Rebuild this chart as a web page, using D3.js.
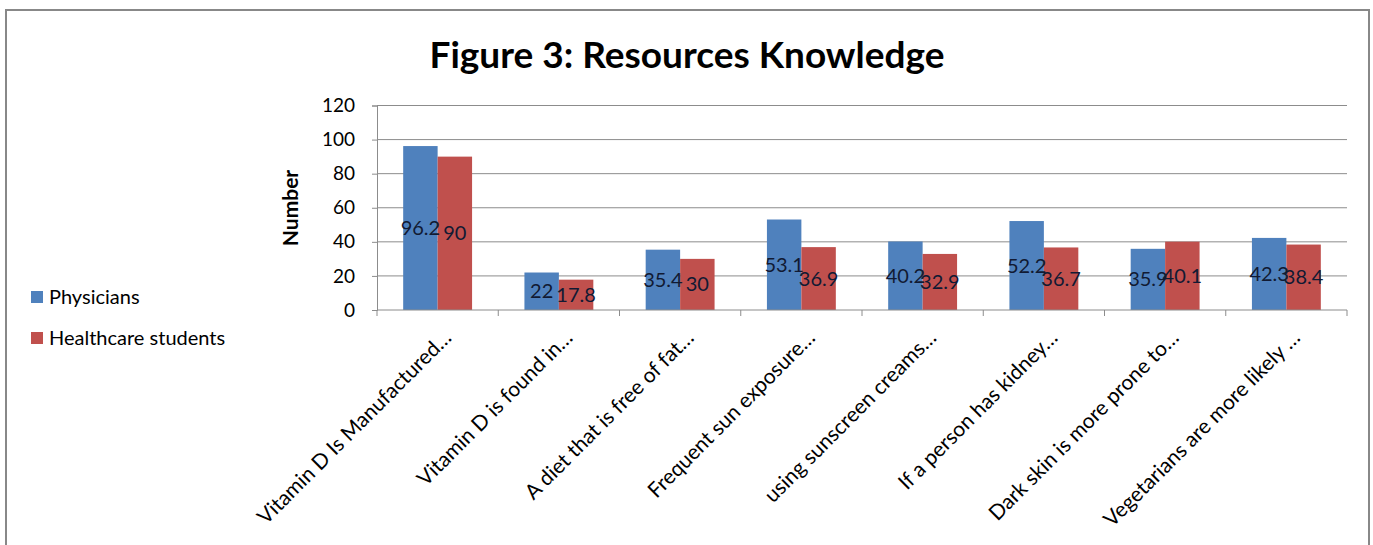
<!DOCTYPE html>
<html>
<head>
<meta charset="utf-8">
<script src="https://cdn.jsdelivr.net/npm/d3@7"></script>
<style>
  body { margin: 0; background: #fff; }
  svg { display: block; font-family: Lato, "Open Sans", sans-serif; }
</style>
</head>
<body>
<svg id="chart" width="1373" height="545"></svg>
<script>
const categories = [
  "Vitamin D Is Manufactured…",
  "Vitamin D is found in…",
  "A diet that is free of fat…",
  "Frequent sun exposure…",
  "using sunscreen creams…",
  "If a person has kidney…",
  "Dark skin is more prone to…",
  "Vegetarians are more likely …",
];
const physicians = [96.2, 22, 35.4, 53.1, 40.2, 52.2, 35.9, 42.3];
const students = [90, 17.8, 30, 36.9, 32.9, 36.7, 40.1, 38.4];
const seriesNames = ["Physicians", "Healthcare students"];
const seriesColors = ["#4F81BD", "#C0504D"];
const yTicks = [0, 20, 40, 60, 80, 100, 120];

const svg = d3.select("#chart");
const margin = { left: 377, right: 26, top: 105.5 };
const width = 1373;
const plotBottom = 310;

// outer frame
svg.append("rect")
  .attr("x", 6).attr("y", 10)
  .attr("width", 1363).attr("height", 545)
  .attr("fill", "none").attr("stroke", "#888").attr("stroke-width", 2);

svg.append("text")
  .attr("x", 687).attr("y", 68)
  .attr("text-anchor", "middle")
  .style("font-size", "37px").style("font-weight", "bold")
  .text("Figure 3: Resources Knowledge");

const x = d3.scaleBand()
  .domain(categories)
  .range([margin.left, width - margin.right])
  .paddingInner(0).paddingOuter(0);

const x1 = d3.scaleBand()
  .domain(seriesNames)
  .range([0, x.bandwidth()])
  .paddingOuter(0.76).paddingInner(0);

const y = d3.scaleLinear().domain([0, 120]).range([plotBottom, margin.top]);

// gridlines
svg.append("g")
  .selectAll("line")
  .data(yTicks.filter(d => d > 0))
  .join("line")
  .attr("x1", margin.left).attr("x2", width - margin.right)
  .attr("y1", d => y(d)).attr("y2", d => y(d))
  .attr("stroke", "#8c8c8c").attr("stroke-width", 1);

// y axis
const yAxis = svg.append("g")
  .attr("transform", `translate(${margin.left},0)`)
  .call(d3.axisLeft(y).tickValues(yTicks).tickSize(5).tickPadding(17));
yAxis.select(".domain").attr("stroke", "#8c8c8c");
yAxis.selectAll(".tick line").attr("stroke", "#8c8c8c");
yAxis.selectAll("text")
  .style("font-size", "19px").style("font-family", "Lato, 'Open Sans', sans-serif")
  .attr("fill", "#000");

svg.append("text")
  .attr("transform", `translate(298,208) rotate(-90)`)
  .attr("text-anchor", "middle")
  .style("font-size", "21px").style("font-weight", "bold")
  .text("Number");

// bars
const rows = categories.map((c, i) => ({ cat: c, vals: [physicians[i], students[i]] }));
const groups = svg.append("g")
  .selectAll("g")
  .data(rows)
  .join("g")
  .attr("transform", d => `translate(${x(d.cat)},0)`);

groups.selectAll("rect")
  .data(d => d.vals.map((v, j) => ({ name: seriesNames[j], v, j })))
  .join("rect")
  .attr("x", d => x1(d.name))
  .attr("width", x1.bandwidth())
  .attr("y", d => y(d.v))
  .attr("height", d => plotBottom - y(d.v))
  .attr("fill", d => seriesColors[d.j]);

groups.selectAll("text.val")
  .data(d => d.vals.map((v, j) => ({ name: seriesNames[j], v, j })))
  .join("text")
  .attr("class", "val")
  .attr("x", d => x1(d.name) + x1.bandwidth() / 2)
  .attr("y", d => (y(d.v) + plotBottom) / 2)
  .attr("dy", "0.35em")
  .attr("text-anchor", "middle")
  .attr("fill", "#111a33")
  .style("font-size", "20px")
  .text(d => d.v);

// x axis
const xAxis = svg.append("g")
  .attr("transform", `translate(0,${plotBottom})`);
xAxis.append("line")
  .attr("x1", margin.left).attr("x2", width - margin.right)
  .attr("stroke", "#8c8c8c");
xAxis.selectAll("line.tk")
  .data(categories.map(c => x(c)).concat([width - margin.right]))
  .join("line")
  .attr("class", "tk")
  .attr("x1", d => d).attr("x2", d => d)
  .attr("y1", 0).attr("y2", 6)
  .attr("stroke", "#8c8c8c");
xAxis.selectAll("text")
  .data(categories)
  .join("text")
  .attr("transform", d => `translate(${x(d) + x.bandwidth() / 2 + 15},${29}) rotate(-45)`)
  .attr("text-anchor", "end")
  .style("font-size", "21px")
  .attr("fill", "#000")
  .text(d => d);

// legend
const legend = svg.append("g");
seriesNames.forEach((n, i) => {
  const ly = 297 + i * 41;
  legend.append("rect")
    .attr("x", 31).attr("y", ly - 6).attr("width", 12).attr("height", 12)
    .attr("fill", seriesColors[i]);
  legend.append("text")
    .attr("x", 49).attr("y", ly).attr("dy", "0.35em")
    .style("font-size", "20px")
    .text(n);
});
</script>
</body>
</html>
